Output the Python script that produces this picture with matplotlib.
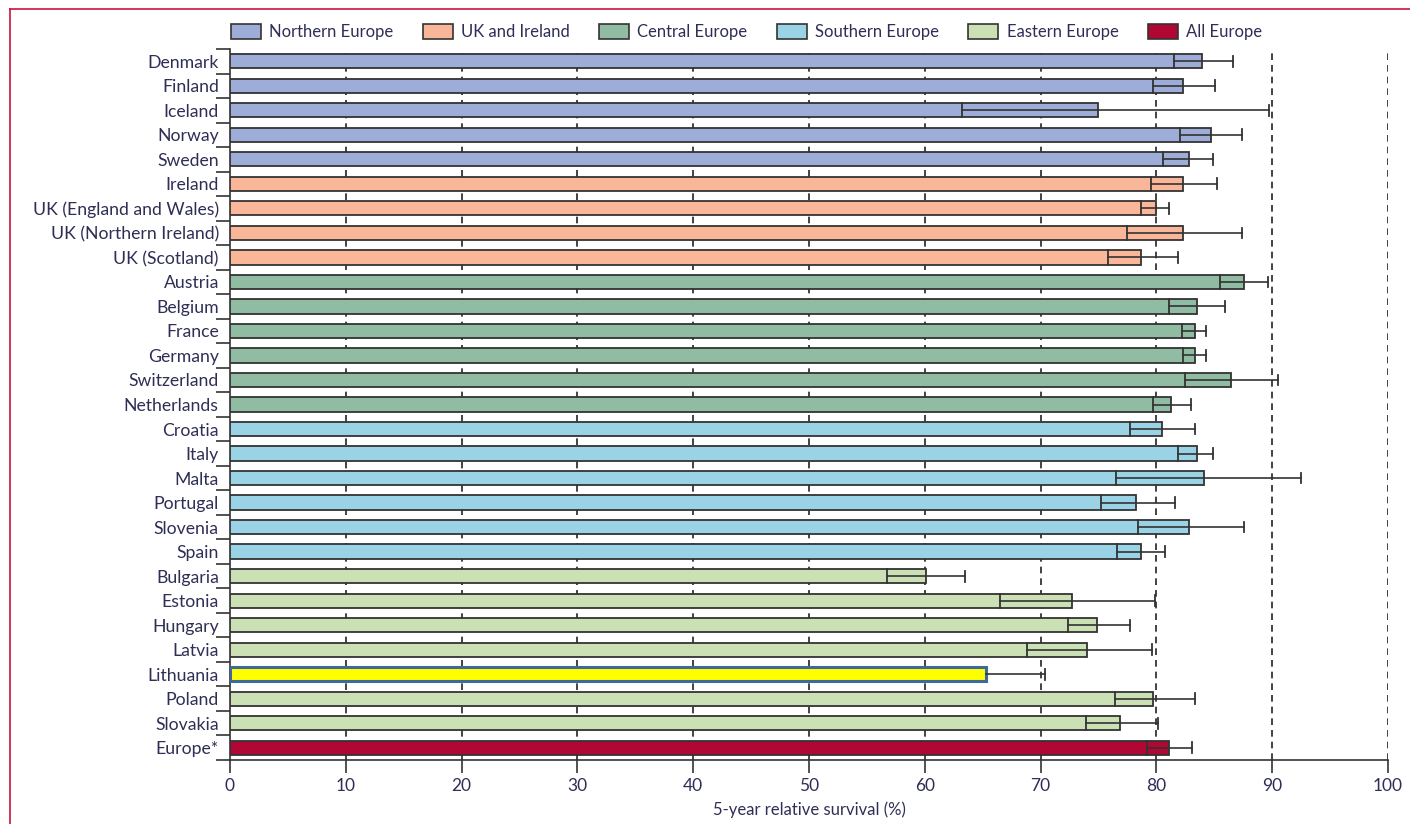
import numpy as np
import matplotlib.pyplot as plt
from matplotlib.patches import Patch
from matplotlib.lines import Line2D

plt.rcParams['font.family'] = ['Lato', 'DejaVu Sans']

countries = ['Denmark', 'Finland', 'Iceland', 'Norway', 'Sweden',
             'Ireland', 'UK (England and Wales)', 'UK (Northern Ireland)', 'UK (Scotland)',
             'Austria', 'Belgium', 'France', 'Germany', 'Switzerland', 'Netherlands',
             'Croatia', 'Italy', 'Malta', 'Portugal', 'Slovenia', 'Spain',
             'Bulgaria', 'Estonia', 'Hungary', 'Latvia', 'Lithuania', 'Poland', 'Slovakia',
             'Europe*']
regions = ['N'] * 5 + ['UK'] * 4 + ['C'] * 6 + ['S'] * 6 + ['E'] * 7 + ['All']

survival = [83.9, 82.3, 75.0, 84.7, 82.8,
            82.3, 80.0, 82.3, 78.7,
            87.6, 83.5, 83.3, 83.3, 86.4, 81.3,
            80.5, 83.5, 84.1, 78.2, 82.8, 78.7,
            60.1, 72.7, 74.9, 74.0, 65.3, 79.7, 76.9,
            81.1]
ci_low = [81.5, 79.7, 63.2, 82.0, 80.6,
          79.5, 78.7, 77.5, 75.8,
          85.5, 81.1, 82.2, 82.3, 82.5, 79.7,
          77.7, 81.9, 76.5, 75.2, 78.4, 76.6,
          56.7, 66.5, 72.4, 68.8, 65.3, 76.4, 73.9,
          79.2]
ci_high = [86.6, 85.1, 89.7, 87.4, 84.9,
           85.2, 81.1, 87.4, 81.9,
           89.6, 85.9, 84.3, 84.3, 90.5, 83.0,
           83.3, 84.9, 92.5, 81.6, 87.6, 80.7,
           63.5, 79.9, 77.7, 79.6, 70.4, 83.3, 80.1,
           83.1]

region_names = {'N': 'Northern Europe', 'UK': 'UK and Ireland', 'C': 'Central Europe',
                'S': 'Southern Europe', 'E': 'Eastern Europe', 'All': 'All Europe'}
region_colors = {'N': '#9dadd7', 'UK': '#f9b699', 'C': '#8fbca3',
                 'S': '#9ad3e6', 'E': '#cbe0b5', 'All': '#b00735'}
highlight = 'Lithuania'

txt = '#2e2e56'
edge = '#333333'

fig = plt.figure(figsize=(14.1, 8.24), dpi=100)
ax = fig.add_axes([0.1631, 0.0777, 0.8213, 0.8628])

y = np.arange(len(countries))
for i, c in enumerate(countries):
    if c == highlight:
        ax.barh(y[i], survival[i], height=0.56, color='#ffff00', edgecolor='#3d6a9a',
                linewidth=2.2, zorder=3)
    else:
        ax.barh(y[i], survival[i], height=0.58, color=region_colors[regions[i]],
                edgecolor=edge, linewidth=1.3, zorder=3)
        # lower CI line inside the bar
        ax.plot([ci_low[i], ci_low[i]], [y[i] - 0.29, y[i] + 0.29], color=edge, lw=1.3, zorder=4)
    lo = survival[i] if c == highlight else ci_low[i]
    ax.plot([lo, ci_high[i]], [y[i], y[i]], color=edge, lw=1.2, zorder=4)
    ax.plot([ci_high[i], ci_high[i]], [y[i] - 0.22, y[i] + 0.22], color=edge, lw=1.3, zorder=4)

for gx in range(10, 101, 10):
    ax.axvline(gx, color='#222222', lw=1.2, ls=(0, (4, 3)), zorder=1)

ax.set_xlim(0, 100)
ax.set_ylim(len(countries) - 0.5, -0.5)
ax.set_xticks(range(0, 101, 10))
ax.set_yticks(y)
ax.set_yticklabels(countries)
ax.set_yticks(np.arange(-0.5, len(countries), 1), minor=True)
ax.tick_params(axis='y', which='major', length=0, pad=8, labelsize=12.7, labelcolor=txt)
ax.tick_params(axis='y', which='minor', length=10, width=1.2, color=edge)
ax.tick_params(axis='x', length=9, width=1.2, color=edge, labelsize=12.5, labelcolor=txt, pad=4)
for s in ['top', 'right']:
    ax.spines[s].set_visible(False)
ax.spines['left'].set_color(edge)
ax.spines['bottom'].set_color(edge)
ax.spines['left'].set_linewidth(1.2)
ax.spines['bottom'].set_linewidth(1.2)
ax.set_xlabel('5-year relative survival (%)', fontsize=12, color=txt, labelpad=5)

handles = [Patch(facecolor=region_colors[k], edgecolor=edge, linewidth=1.2, label=region_names[k])
           for k in ['N', 'UK', 'C', 'S', 'E', 'All']]
leg = fig.legend(handles=handles, loc='center', bbox_to_anchor=(0.5295, 0.961), ncol=6,
                 frameon=False, fontsize=12, handlelength=1.8, handleheight=1.0,
                 columnspacing=1.75, handletextpad=0.5)
for t in leg.get_texts():
    t.set_color(txt)

# red frame of the original figure panel
fig.add_artist(Line2D([10 / 1410, 1], [1 - 9 / 824, 1 - 9 / 824], color='#c8143c', lw=1.2))
fig.add_artist(Line2D([10 / 1410, 10 / 1410], [0, 1 - 9 / 824], color='#c8143c', lw=1.2))

fig.savefig('out.png', dpi=100)
